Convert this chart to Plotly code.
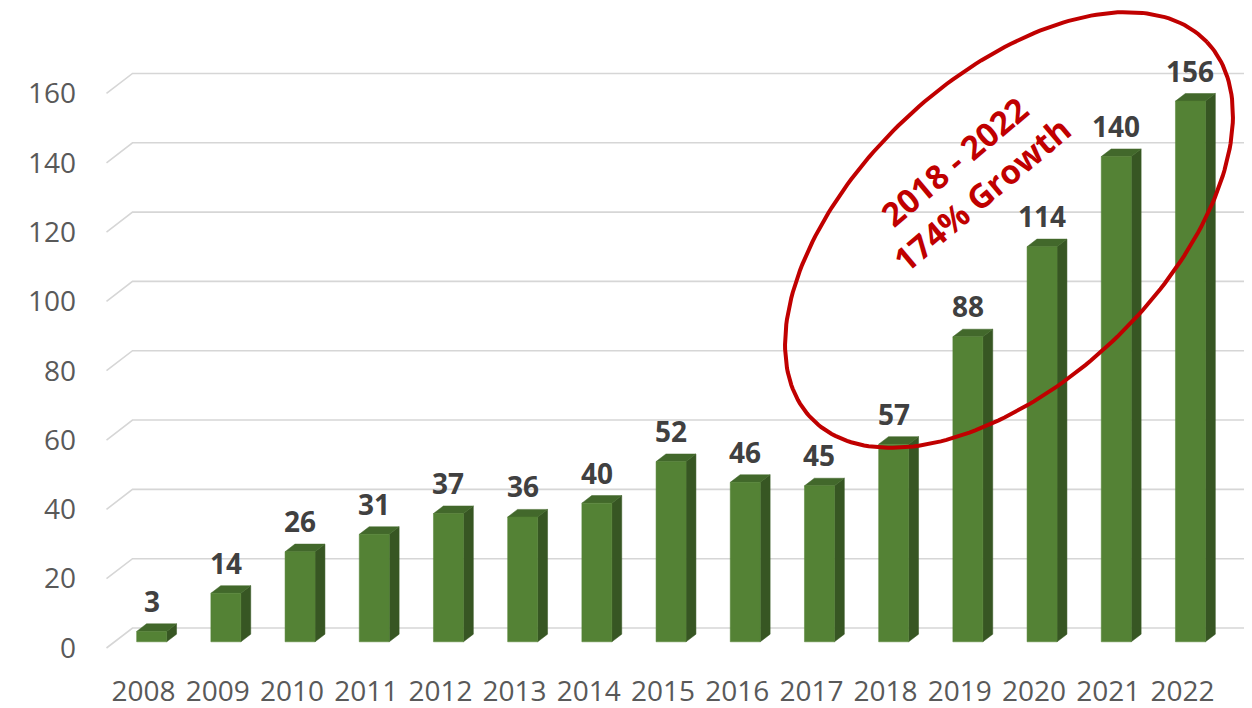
import numpy as np
import plotly.graph_objects as go

# ---- data ----
years = ["2008", "2009", "2010", "2011", "2012", "2013", "2014", "2015",
         "2016", "2017", "2018", "2019", "2020", "2021", "2022"]
values = [3, 14, 26, 31, 37, 36, 40, 52, 46, 45, 57, 88, 114, 140, 156]
y_ticks = [0, 20, 40, 60, 80, 100, 120, 140, 160]
callout_text = "2018 - 2022<br>174% Growth"

# ---- geometry / style (figure pixel coordinates; page has 8px body margin) ----
OFF = 8
PX_X = 74.2      # px per category
PX_Y = 3.466     # px per value unit
X0_PX = 143.6 - OFF   # pixel x of first category (front plane)
Y0_PX = 648.0 - OFF   # pixel y of value 0 (front plane)

def px_to_data(px, py):
    return (px - X0_PX) / PX_X, (Y0_PX - py) / PX_Y

DEPTH_DX = 26 / PX_X
DEPTH_DY = 20 / PX_Y
F_FRONT, F_BACK = 0.31, 0.69
BAR_W = 30 / PX_X

FRONT_C = "#548235"
TOP_C = "#42682b"
SIDE_C = "#375623"
GRID_C = "#d6d6d6"
RED = "#c00000"

n = len(years)
idx = np.arange(n)

fig = go.Figure()

# gridlines on back wall + side wall diagonals
gx, gy = [], []
for t in y_ticks:
    gx += [-0.5, -0.5 + DEPTH_DX, n - 0.5 + DEPTH_DX, None]
    gy += [t, t + DEPTH_DY, t + DEPTH_DY, None]
fig.add_trace(go.Scatter(x=gx, y=gy, mode="lines",
                         line=dict(color=GRID_C, width=1.6),
                         hoverinfo="skip", showlegend=False))

fx_off = F_FRONT * DEPTH_DX
fy_off = F_FRONT * DEPTH_DY
bdx = (F_BACK - F_FRONT) * DEPTH_DX
bdy = (F_BACK - F_FRONT) * DEPTH_DY

# bar faces
fxs, fys, sx, sy, tx, ty = [], [], [], [], [], []
for i, v in zip(idx, values):
    xl = i + fx_off - BAR_W / 2
    xr = i + fx_off + BAR_W / 2
    yb = fy_off
    yt = fy_off + v
    fxs += [xl, xr, xr, xl, xl, None]
    fys += [yb, yb, yt, yt, yb, None]
    sx += [xr, xr + bdx, xr + bdx, xr, xr, None]
    sy += [yb, yb + bdy, yt + bdy, yt, yb, None]
    tx += [xl, xr, xr + bdx, xl + bdx, xl, None]
    ty += [yt, yt, yt + bdy, yt + bdy, yt, None]

for xs_, ys_, col in [(sx, sy, SIDE_C), (tx, ty, TOP_C), (fxs, fys, FRONT_C)]:
    fig.add_trace(go.Scatter(x=xs_, y=ys_, mode="lines", fill="toself",
                             fillcolor=col, line=dict(width=0.5, color=col),
                             hoverinfo="skip", showlegend=False))

# value labels
for i, v in zip(idx, values):
    fig.add_annotation(x=i + fx_off, y=v + fy_off + bdy, text=str(v),
                       showarrow=False, yanchor="bottom", yshift=2,
                       font=dict(family="Open Sans", size=28, color="#404040",
                                 weight="bold"))

# callout ellipse
cx, cy, a, b, th = 1009 - OFF, 230 - OFF, 273, 152, np.deg2rad(43.5)
t = np.linspace(0, 2 * np.pi, 240)
ex_px = cx + a * np.cos(t) * np.cos(th) - b * np.sin(t) * np.sin(th)
ey_px = cy - (a * np.cos(t) * np.sin(th) + b * np.sin(t) * np.cos(th))
ex, ey = px_to_data(ex_px, ey_px)
fig.add_trace(go.Scatter(x=ex, y=ey, mode="lines",
                         line=dict(color=RED, width=4),
                         hoverinfo="skip", showlegend=False, cliponaxis=False))

tx_c, ty_c = px_to_data(968 - OFF, 178 - OFF)
fig.add_annotation(x=tx_c, y=ty_c, text=callout_text, showarrow=False,
                   textangle=-40,
                   font=dict(family="Open Sans", size=33, color=RED,
                             weight="bold"))

L, R, T, B = 69, 1244, 0, 664
xr0, _ = px_to_data(L, 0)
xr1, _ = px_to_data(R, 0)
_, yr1 = px_to_data(0, T)
_, yr0 = px_to_data(0, B)

fig.update_layout(
    width=1252, height=708,
    margin=dict(l=L, r=1252 - R, t=T, b=708 - B),
    paper_bgcolor="white", plot_bgcolor="white",
    xaxis=dict(range=[xr0, xr1], tickmode="array", tickvals=list(idx),
               ticktext=years, showgrid=False, zeroline=False, showline=False,
               ticks="", tickfont=dict(family="Open Sans", size=28,
                                       color="#595959")),
    yaxis=dict(range=[yr0, yr1], tickmode="array", tickvals=y_ticks,
               showgrid=False, zeroline=False, showline=False, ticks="",
               tickfont=dict(family="Open Sans", size=28, color="#595959")),
)

fig.write_html("out.html")
